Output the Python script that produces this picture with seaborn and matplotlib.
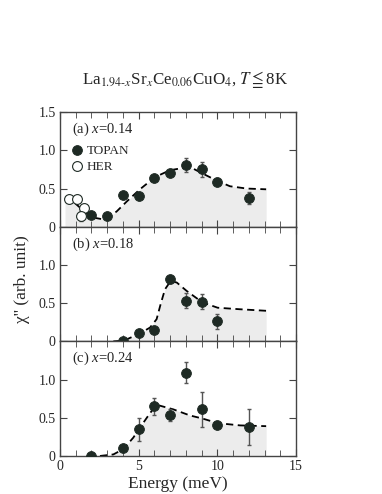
import numpy as np
import pandas as pd
import matplotlib
matplotlib.use("Agg")
import matplotlib.pyplot as plt
import seaborn as sns

# Panel (a) x=0.14
topan_a_e = [2.0, 3.0, 4.0, 5.0, 6.0, 7.0, 8.0, 9.0, 10.0, 12.0]
topan_a_chi = [0.15, 0.14, 0.41, 0.40, 0.64, 0.70, 0.81, 0.75, 0.59, 0.38]
topan_a_err = [0.03, 0.03, 0.04, 0.04, 0.04, 0.04, 0.09, 0.10, 0.05, 0.08]
her_a_e = [0.57, 1.06, 1.55, 1.31]
her_a_chi = [0.36, 0.357, 0.24, 0.14]
her_a_err = [0.03, 0.03, 0.03, 0.06]
fit_a_e = [0.32, 0.57, 1.0, 1.55, 2.12, 2.65, 3.07, 3.6, 4.24, 5.08, 6.04,
           6.99, 7.84, 8.47, 9.32, 10.0, 10.8, 11.86, 13.1]
fit_a_chi = [0.37, 0.36, 0.30, 0.20, 0.12, 0.10, 0.12, 0.20, 0.33, 0.49, 0.65,
             0.74, 0.77, 0.76, 0.67, 0.60, 0.53, 0.50, 0.49]

# Panel (b) x=0.18
topan_b_e = [4.0, 5.0, 6.0, 7.0, 8.0, 9.0, 10.0]
topan_b_chi = [0.0, 0.11, 0.15, 0.81, 0.53, 0.52, 0.26]
topan_b_err = [0.02, 0.03, 0.03, 0.05, 0.10, 0.10, 0.10]
fit_b_e = [3.39, 4.07, 5.04, 5.72, 6.14, 6.4, 6.67, 7.03, 7.42, 8.05, 9.05,
           10.02, 11.44, 13.1]
fit_b_chi = [0.0, 0.01, 0.10, 0.18, 0.29, 0.49, 0.68, 0.79, 0.77, 0.66, 0.51,
             0.44, 0.42, 0.40]

# Panel (c) x=0.24
topan_c_e = [2.0, 4.0, 5.0, 6.0, 7.0, 8.0, 9.0, 10.0, 12.0]
topan_c_chi = [0.0, 0.10, 0.35, 0.65, 0.54, 1.09, 0.61, 0.41, 0.38]
topan_c_err = [0.05, 0.03, 0.15, 0.11, 0.08, 0.14, 0.23, 0.03, 0.24]
fit_c_e = [2.54, 3.39, 4.03, 4.66, 5.08, 5.72, 6.14, 7.2, 8.26, 9.05, 10.02,
           11.44, 13.1]
fit_c_chi = [0.0, 0.02, 0.09, 0.24, 0.37, 0.56, 0.67, 0.61, 0.53, 0.49, 0.43,
             0.40, 0.39]

panel_labels = ["(a) $x$=0.14", "(b) $x$=0.18", "(c) $x$=0.24"]

sns.set_style("ticks")
plt.rcParams["font.family"] = ["Liberation Serif", "DejaVu Serif"]
plt.rcParams["mathtext.fontset"] = "custom"
plt.rcParams["mathtext.rm"] = "Liberation Serif"
plt.rcParams["mathtext.it"] = "Liberation Serif:italic"

DARK = "#1e2a24"
SPINE = "#444444"
FILL = "#ececec"

fig, axes = plt.subplots(3, 1, figsize=(3.82, 4.94), dpi=100, sharex=True)
fig.subplots_adjust(left=0.157, right=0.775, top=0.773, bottom=0.077, hspace=0)

panels = [
    (topan_a_e, topan_a_chi, topan_a_err, fit_a_e, fit_a_chi),
    (topan_b_e, topan_b_chi, topan_b_err, fit_b_e, fit_b_chi),
    (topan_c_e, topan_c_chi, topan_c_err, fit_c_e, fit_c_chi),
]

for i, (ax, (e, chi, err, fe, fc)) in enumerate(zip(axes, panels)):
    fit = pd.DataFrame({"E": fe, "chi": fc})
    ax.fill_between(fit["E"], 0, fit["chi"], color=FILL, lw=0, zorder=0)
    sns.lineplot(data=fit, x="E", y="chi", ax=ax, sort=False, color="black",
                 lw=1.3, linestyle=(0, (4, 2.5)), zorder=2)
    ax.errorbar(e, chi, yerr=err, fmt="none", ecolor="#555555", elinewidth=1,
                capsize=1.5, capthick=1, zorder=3)
    pts = pd.DataFrame({"E": e, "chi": chi})
    sns.scatterplot(data=pts, x="E", y="chi", ax=ax, color=DARK, s=50,
                    edgecolor=DARK, linewidth=0.6, zorder=4,
                    label="TOPAN" if i == 0 else None)
    if i == 0:
        ax.errorbar(her_a_e, her_a_chi, yerr=her_a_err, fmt="none",
                    ecolor="#555555", elinewidth=1, capsize=1.5, zorder=3)
        her = pd.DataFrame({"E": her_a_e, "chi": her_a_chi})
        sns.scatterplot(data=her, x="E", y="chi", ax=ax, color="white", s=50,
                        edgecolor=DARK, linewidth=0.8, zorder=4, label="HER")
        ax.legend(loc="upper left", bbox_to_anchor=(0.0, 0.8), frameon=False,
                  fontsize=9.5, handletextpad=0.1, borderaxespad=0.3,
                  labelspacing=0.3, handlelength=1.2)
    ax.text(0.05, 0.85, panel_labels[i], transform=ax.transAxes, fontsize=10.5,
            va="center", ha="left")

    ax.set_xlim(0, 15)
    ax.set_ylim(0, 1.5)
    ax.set_xticks([0, 5, 10, 15])
    ax.set_xticks(np.arange(0, 16, 1), minor=True)
    if i == 0:
        ax.set_yticks([0, 0.5, 1.0, 1.5])
        ax.set_yticklabels(["0", "0.5", "1.0", "1.5"])
    else:
        ax.set_yticks([0, 0.5, 1.0])
        ax.set_yticklabels(["0", "0.5", "1.0"])
    ax.tick_params(which="both", direction="in", top=True, right=True,
                   color=SPINE, labelsize=10, pad=3)
    ax.tick_params(which="major", length=5)
    ax.tick_params(which="minor", length=4)
    for sp in ax.spines.values():
        sp.set_color(SPINE)
        sp.set_linewidth(1)
    ax.set_xlabel("")
    ax.set_ylabel("")

axes[2].set_xticklabels(["0", "5", "10", "15"])
axes[2].set_xlabel("Energy (meV)", fontsize=12.5, labelpad=2)
fig.text(0.057, 0.435, "χ'' (arb. unit)", rotation=90, fontsize=12.5,
         ha="center", va="center")
fig.text(0.484, 0.84,
         r"La$_{1.94\text{-}x}$Sr$_{x}$Ce$_{0.06}$CuO$_4$, $T\leqq$8K",
         fontsize=12.2, ha="center", va="center", math_fontfamily="stix")

fig.savefig("out.png", dpi=100)
